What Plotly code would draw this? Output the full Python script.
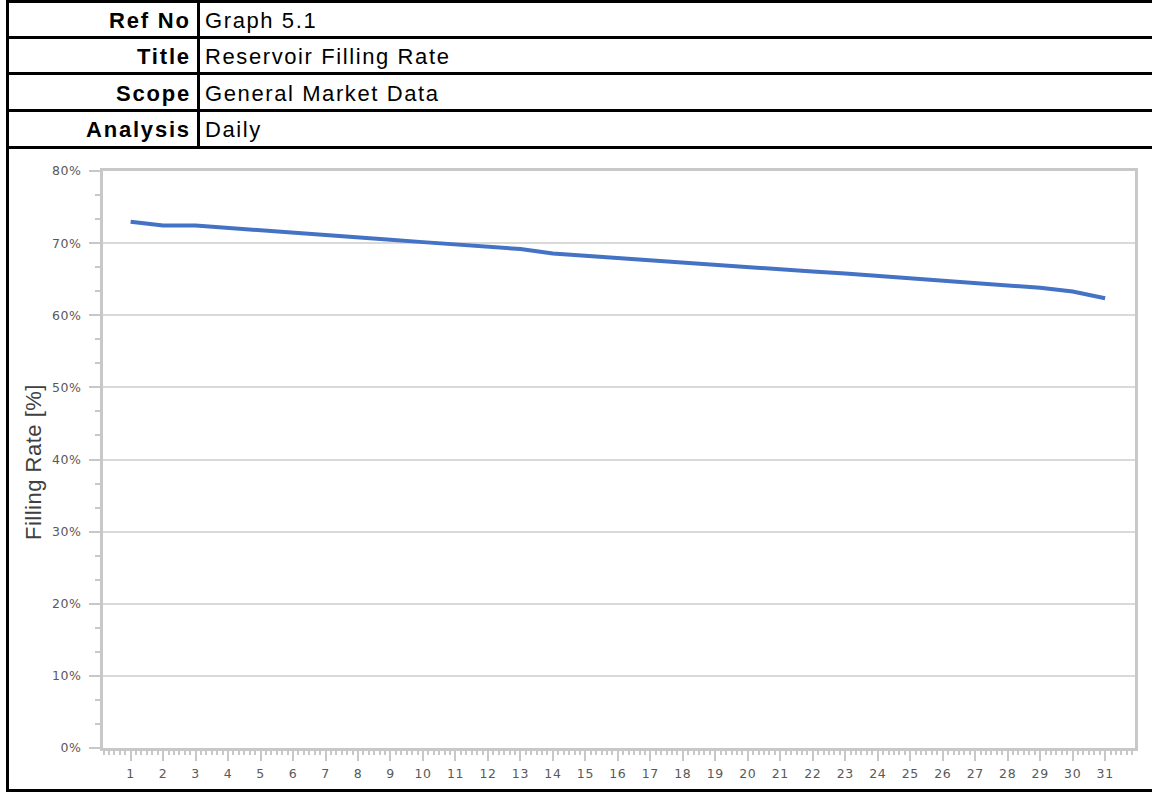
import plotly.graph_objects as go

# Daily reservoir filling rate (%)
days = list(range(1, 32))
filling_rate = [72.96, 72.44, 72.45, 72.10, 71.85, 71.47, 71.15, 70.74,
                70.46, 70.14, 69.86, 69.49, 69.17, 68.56, 68.24, 67.90,
                67.58, 67.22, 66.94, 66.70, 66.39, 66.06, 65.78, 65.46,
                65.18, 64.90, 64.58, 64.20, 63.80, 63.28, 62.36]

y_ticks = [0, 10, 20, 30, 40, 50, 60, 70, 80]
y_tick_text = [f"{v}%" for v in y_ticks]

header_labels = ["Ref No", "Title", "Scope", "Analysis"]
header_values = ["Graph 5.1", "Reservoir Filling Rate", "General Market Data", "Daily"]

W, H = 1152, 792
L, R, T, B = 103, 1135, 171, 748


def px(x):
    return (x - L) / (R - L)


def py(y):
    return (B - y) / (B - T)


def spaced(text, ls):
    return f'<span style="letter-spacing:{ls}px">{text}</span>'


fig = go.Figure()
fig.add_trace(go.Scatter(
    x=days, y=filling_rate, mode="lines",
    line=dict(color="#4472C4", width=4),
    hoverinfo="skip", showlegend=False,
))

tick_font = dict(family="DejaVu Sans", size=12.5, color="#595959")
frame = "#c8c8c8"

fig.update_xaxes(
    range=[0.15, 31.92], tickvals=days,
    ticktext=[spaced(str(d), 0.6) for d in days],
    showgrid=False, zeroline=False,
    showline=True, mirror=True, linecolor=frame, linewidth=3,
    ticks="outside", ticklen=10, tickwidth=2, tickcolor=frame,
    minor=dict(dtick=1 / 6, tick0=1, ticks="outside", ticklen=4,
               tickwidth=2, tickcolor=frame, showgrid=False),
    tickfont=tick_font, ticklabelstandoff=2,
)
fig.update_yaxes(
    range=[0, 80], tickvals=y_ticks,
    ticktext=[spaced(t, 0.6) for t in y_tick_text],
    showgrid=True, gridcolor="#d9d9d9", gridwidth=2, zeroline=False,
    showline=True, mirror=True, linecolor=frame, linewidth=3,
    ticks="outside", ticklen=11, tickwidth=2, tickcolor=frame,
    minor=dict(dtick=10 / 3, tick0=0, ticks="outside", ticklen=5,
               tickwidth=2, tickcolor=frame, showgrid=False),
    tickfont=tick_font, ticklabelstandoff=5,
)

shapes = []
black = dict(color="black", width=3)
# outer border
shapes.append(dict(type="line", xref="paper", yref="paper",
                   x0=px(7.5), x1=px(7.5), y0=py(0), y1=py(792), line=black))
shapes.append(dict(type="line", xref="paper", yref="paper",
                   x0=px(7.5), x1=px(1152), y0=py(1.5), y1=py(1.5), line=black))
shapes.append(dict(type="line", xref="paper", yref="paper",
                   x0=px(7.5), x1=px(1152), y0=py(790.5), y1=py(790.5), line=black))
# header rows
row_lines = [37.5, 73.5, 110.5, 147.5]
for yl in row_lines:
    shapes.append(dict(type="line", xref="paper", yref="paper",
                       x0=px(7.5), x1=px(1152), y0=py(yl), y1=py(yl), line=black))
shapes.append(dict(type="line", xref="paper", yref="paper",
                   x0=px(198.5), x1=px(198.5), y0=py(0), y1=py(147.5), line=black))

annotations = []
header_font = dict(family="Liberation Sans", size=22, color="black")
row_tops = [1.5] + row_lines[:-1]
for top, bottom, lab, val in zip(row_tops, row_lines, header_labels, header_values):
    yc = py((top + bottom) / 2 + 1)
    annotations.append(dict(
        text=f"<b>{spaced(lab, 1.8)}</b>", x=px(193), y=yc,
        xref="paper", yref="paper", xanchor="right", yanchor="middle",
        showarrow=False, font=header_font))
    annotations.append(dict(
        text=spaced(val, 1.6), x=px(203), y=yc,
        xref="paper", yref="paper", xanchor="left", yanchor="middle",
        showarrow=False, font=header_font))

annotations.append(dict(
    text=spaced("Filling Rate [%]", 0.5), x=px(33), y=py(462),
    xref="paper", yref="paper", xanchor="center", yanchor="middle",
    textangle=-90, showarrow=False,
    font=dict(family="Liberation Sans", size=22, color="#404040")))

fig.update_layout(
    width=W, height=H,
    margin=dict(l=L, r=W - R, t=T, b=H - B, pad=0),
    paper_bgcolor="white", plot_bgcolor="white",
    shapes=shapes, annotations=annotations,
)

fig.write_html("out.html")
